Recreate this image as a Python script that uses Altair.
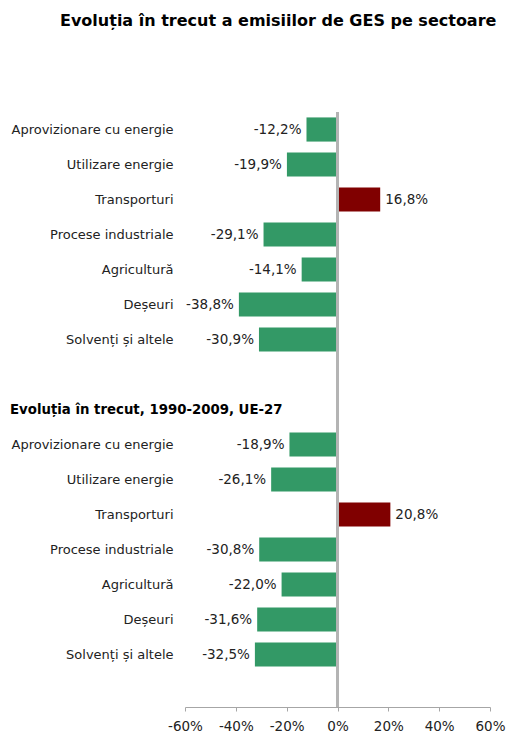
import altair as alt
import pandas as pd

title = "Evoluția în trecut a emisiilor de GES pe sectoare"
subtitle = "Evoluția în trecut, 1990-2009, UE-27"
sectors = ["Aprovizionare cu energie", "Utilizare energie", "Transporturi",
           "Procese industriale", "Agricultură", "Deșeuri", "Solvenți și altele"]
values_ro = [-12.2, -19.9, 16.8, -29.1, -14.1, -38.8, -30.9]
values_eu = [-18.9, -26.1, 20.8, -30.8, -22.0, -31.6, -32.5]
x_ticks = [-60, -40, -20, 0, 20, 40, 60]

# row layout: 7 sectors, blank, subtitle, 7 sectors, blank
row_labels = sectors + ["", ""] + sectors + [""]
n_rows = len(row_labels)
SUB_ROW = 8

rows = []
for i, v in enumerate(values_ro):
    rows.append({"row": i, "value": v})
for i, v in enumerate(values_eu):
    rows.append({"row": 9 + i, "value": v})
df = pd.DataFrame(rows)
df["label"] = df["value"].map(lambda v: f"{v:.1f}%".replace(".", ","))

sub_df = pd.DataFrame([{"row": SUB_ROW, "text": subtitle}])

FONT = "DejaVu Sans"
CAT_FS = 13
NUM_FS = 13.5
label_arr = "[" + ",".join("'" + s + "'" for s in row_labels) + "]"

y_enc = alt.Y("row:O",
              scale=alt.Scale(domain=list(range(n_rows)), paddingInner=0.31, paddingOuter=0.155),
              axis=alt.Axis(title=None, labelExpr=label_arr + "[datum.value]",
                            domain=False, ticks=False, labelPadding=12,
                            labelFont=FONT, labelFontSize=CAT_FS, labelColor="#222222",
                            labelLimit=300))
x_scale = alt.Scale(domain=[-60, 60], nice=False)

bars = alt.Chart(df).mark_bar().encode(
    x=alt.X("value:Q", scale=x_scale,
            axis=alt.Axis(title=None, values=x_ticks, grid=False,
                          labelExpr="datum.value + '%'",
                          labelOverlap=False, labelFlush=False,
                          domainColor="#a6a6a6", tickColor="#a6a6a6", tickSize=4,
                          labelPadding=8, labelFont=FONT, labelFontSize=NUM_FS,
                          labelColor="#222222")),
    y=y_enc,
    color=alt.condition(alt.datum.value > 0, alt.value("#800000"), alt.value("#339966")),
)

zero = alt.Chart(df).mark_rule(color="#b4b4b4", strokeWidth=2).encode(x=alt.datum(0))

txt_neg = alt.Chart(df).transform_filter("datum.value < 0").mark_text(
    align="right", dx=-5, font=FONT, fontSize=NUM_FS, color="#222222"
).encode(x="value:Q", y=alt.Y("row:O"), text="label:N")

txt_pos = alt.Chart(df).transform_filter("datum.value >= 0").mark_text(
    align="left", dx=5, font=FONT, fontSize=NUM_FS, color="#222222"
).encode(x="value:Q", y=alt.Y("row:O"), text="label:N")

sub = alt.Chart(sub_df).mark_text(
    align="left", font=FONT, fontSize=13.3, fontWeight="bold", color="#000000"
).encode(x=alt.value(-175), y=alt.Y("row:O"), text="text:N")

chart = alt.layer(bars, zero, txt_neg, txt_pos, sub).properties(
    width=305, height=595,
    padding={"left": 2, "top": 5, "right": 0, "bottom": 0},
    title=alt.TitleParams(title, font=FONT, fontSize=16, fontWeight="bold",
                          anchor="start", frame="group", dx=-125, offset=82,
                          color="#000000"),
).configure_view(stroke=None)

chart.save("out.html", embed_options={"renderer": "svg", "actions": False})
